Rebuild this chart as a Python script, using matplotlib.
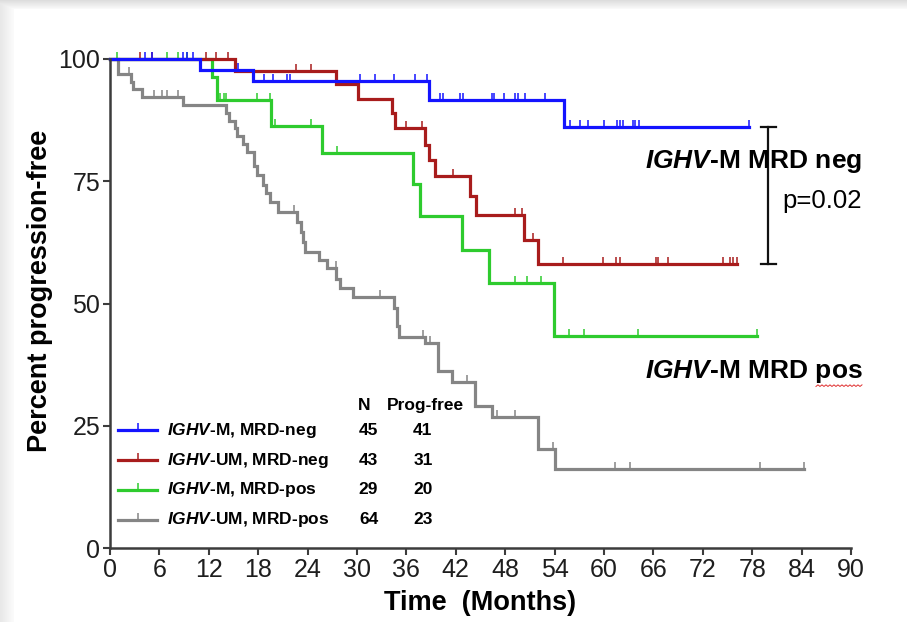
import numpy as np
import matplotlib
matplotlib.use("Agg")
import matplotlib.pyplot as plt

plt.rcParams['font.family'] = ['Liberation Sans', 'DejaVu Sans']
plt.rcParams['mathtext.fontset'] = 'custom'
plt.rcParams['mathtext.it'] = 'Liberation Sans:italic:bold'
plt.rcParams['mathtext.rm'] = 'Liberation Sans:bold'

# Kaplan-Meier steps: event times (months) and percent progression-free after each step
mneg_t = [10.9, 17.4, 38.8, 55.1]
mneg_s = [97.8, 95.5, 91.7, 86.0]
mneg_cens = [4.3, 5.1, 8.9, 9.3, 10.1, 15.5, 18.7, 19.8, 21.5, 21.9, 30.4, 32.2,
             34.5, 37.1, 38.5, 40.1, 40.4, 42.5, 42.9, 46.4, 46.6, 47.9, 49.2,
             49.5, 50.4, 52.8, 55.9, 57.1, 58.1, 60.0, 61.6, 61.9, 62.3, 63.5,
             63.8, 64.2, 77.6]
mneg_end = 77.6

umneg_t = [15.2, 27.4, 30.1, 34.2, 34.6, 38.3, 38.7, 39.5, 43.7, 44.5, 50.3, 52.0]
umneg_s = [97.6, 94.8, 91.8, 88.9, 85.8, 82.5, 79.3, 76.0, 72.0, 68.0, 63.0, 58.0]
umneg_cens = [3.6, 5.1, 11.7, 12.9, 14.3, 22.6, 24.4, 36.0, 37.9, 41.6, 49.2,
              50.0, 51.4, 55.0, 59.9, 61.5, 61.9, 66.3, 66.6, 67.8, 74.5, 75.3,
              75.7, 76.2]
umneg_end = 76.2

mpos_t = [12.4, 13.0, 19.6, 25.7, 36.8, 37.7, 42.7, 46.0, 53.9]
mpos_s = [96.3, 91.6, 86.4, 80.8, 74.4, 67.8, 60.9, 54.1, 43.3]
mpos_cens = [0.9, 6.9, 8.2, 9.4, 13.4, 13.8, 14.1, 17.9, 19.4, 20.1, 24.4, 27.6,
             49.2, 50.6, 52.4, 55.8, 57.6, 64.1, 78.6]
mpos_end = 78.6

umpos_t = [1.0, 2.6, 2.8, 3.85, 8.9, 14.1, 14.5, 15.2, 15.4, 16.2, 16.6, 17.5,
           17.8, 18.6, 19.0, 19.4, 20.4, 22.7, 23.2, 23.5, 23.7, 25.4, 26.3,
           27.5, 27.9, 29.5, 34.5, 34.8, 35.1, 38.3, 39.8, 41.5, 44.3, 46.4,
           52.0, 54.0]
umpos_s = [96.9, 95.3, 93.8, 92.2, 90.6, 89.0, 87.3, 85.8, 84.2, 82.6, 81.0, 78.2,
           76.2, 74.3, 72.5, 70.7, 68.7, 66.7, 64.7, 62.6, 60.6, 58.9, 57.2,
           55.1, 53.1, 51.3, 49.0, 45.3, 43.2, 41.9, 36.2, 34.0, 29.0, 26.7,
           20.2, 16.1]
umpos_cens = [2.3, 5.3, 6.3, 6.9, 8.2, 22.4, 27.4, 32.8, 38.0, 38.9, 43.3, 47.0,
              49.2, 53.8, 61.3, 63.2, 79.0, 84.3]
umpos_end = 84.3

groups = [
    ("$IGHV$-UM, MRD-pos", umpos_t, umpos_s, umpos_cens, umpos_end, "#858585", 64, 23),
    ("$IGHV$-M, MRD-pos", mpos_t, mpos_s, mpos_cens, mpos_end, "#2ecb2e", 29, 20),
    ("$IGHV$-UM, MRD-neg", umneg_t, umneg_s, umneg_cens, umneg_end, "#a81c1c", 43, 31),
    ("$IGHV$-M, MRD-neg", mneg_t, mneg_s, mneg_cens, mneg_end, "#1414ff", 45, 41),
]
legend_order = [3, 2, 1, 0]
legend_y = [24.1, 17.9, 11.9, 5.8]

fig = plt.figure(figsize=(9.07, 6.22), dpi=100)

# slide shadow along the top and left edges
bg = fig.add_axes([0, 0, 1, 1], zorder=-10)
H, W = 622, 907
yy, xx = np.mgrid[0:H, 0:W]
shade = np.ones((H, W))
shade = np.where(yy < 9, np.minimum(shade, 0.87 + 0.12 * yy / 9), shade)
shade = np.where(xx < 14, np.minimum(shade, 0.91 + 0.08 * xx / 14), shade)
bg.imshow(np.dstack([shade] * 3), aspect='auto', extent=(0, W, H, 0))
bg.axis('off')

ax = fig.add_axes([110 / 907, 1 - 548 / 622, 741 / 907, 489 / 622])
ax.set_facecolor('none')

for label, t, s, cens, end, col, n, free in groups:
    tt = np.r_[0, t, end]
    ss = np.r_[100, s, s[-1]]
    ax.step(tt, ss, where='post', color=col, lw=2.3, clip_on=False,
            solid_joinstyle='miter')
    idx = np.searchsorted(tt, cens, side='right') - 1
    ax.plot(cens, ss[idx], linestyle='none', marker=2, ms=5, mew=1.1,
            color=col, clip_on=False)

# legend with counts
ax.text(30.9, 29.2, "N", fontsize=12.5, fontweight='bold', ha='center', va='center')
ax.text(38.3, 29.2, "Prog-free", fontsize=12.5, fontweight='bold', ha='center', va='center')
for k, yv in zip(legend_order, legend_y):
    label, t, s, cens, end, col, n, free = groups[k]
    ax.plot([1.0, 5.7], [yv, yv], color=col, lw=2.3, clip_on=False)
    ax.plot([3.4], [yv], marker=2, ms=5, mew=1.1, color=col, clip_on=False)
    ax.text(6.9, yv, label, fontsize=12.5, fontweight='bold', va='center')
    ax.text(31.4, yv, str(n), fontsize=12.5, fontweight='bold', ha='center', va='center')
    ax.text(38.0, yv, str(free), fontsize=12.5, fontweight='bold', ha='center', va='center')

# comparison bracket
bx, b_top, b_bot = 79.95, mneg_s[-1], umneg_s[-1]
ax.plot([bx, bx], [b_top, b_bot], color='#111111', lw=1.6, clip_on=False)
ax.plot([bx - 0.9, bx + 0.9], [b_top, b_top], color='#111111', lw=1.6, clip_on=False)
ax.plot([bx - 0.9, bx + 0.9], [b_bot, b_bot], color='#111111', lw=1.6, clip_on=False)

ax.text(65.0, 79.1, "$IGHV$-M MRD neg", fontsize=19, fontweight='bold', va='center')
ax.text(81.6, 71.0, "p=0.02", fontsize=18.5, va='center')
pos_txt = ax.text(65.0, 36.0, "$IGHV$-M MRD pos", fontsize=19, fontweight='bold', va='center')

ax.set_xlim(0, 90)
ax.set_ylim(0, 100)
ax.set_xticks(np.arange(0, 91, 6))
ax.set_yticks([0, 25, 50, 75, 100])
for side in ['top', 'right']:
    ax.spines[side].set_visible(False)
for side in ['left', 'bottom']:
    ax.spines[side].set_linewidth(1.8)
    ax.spines[side].set_color('#3c3c3c')
ax.tick_params(axis='both', labelsize=18, width=1.5, length=5, color='#3c3c3c',
               labelcolor='#1e1e1e', pad=2)

ax.set_xlabel("Time  (Months)", fontsize=19.5, fontweight='bold', va='center')
ax.xaxis.set_label_coords(0.5, -0.112)
ax.set_ylabel("Percent progression-free", fontsize=19.5, fontweight='bold', va='center')
ax.yaxis.set_label_coords(-0.095, 0.525)

# red spell-check squiggle under "pos"
fig.canvas.draw()
r = fig.canvas.get_renderer()
bb = pos_txt.get_window_extent(r)
tmp = ax.text(0, 0, "pos", fontsize=19, fontweight='bold')
w_pos = tmp.get_window_extent(r).width
tmp.remove()
zx = np.arange(bb.x1 - w_pos, bb.x1 + 1, 2.0)
zy = bb.y0 - 1 + np.where(np.arange(len(zx)) % 2 == 0, 0.0, 1.6)
fig.add_artist(plt.Line2D(zx / fig.bbox.width, zy / fig.bbox.height,
                          color='#e03030', lw=0.7, transform=fig.transFigure))

fig.savefig("out.png", dpi=100)
